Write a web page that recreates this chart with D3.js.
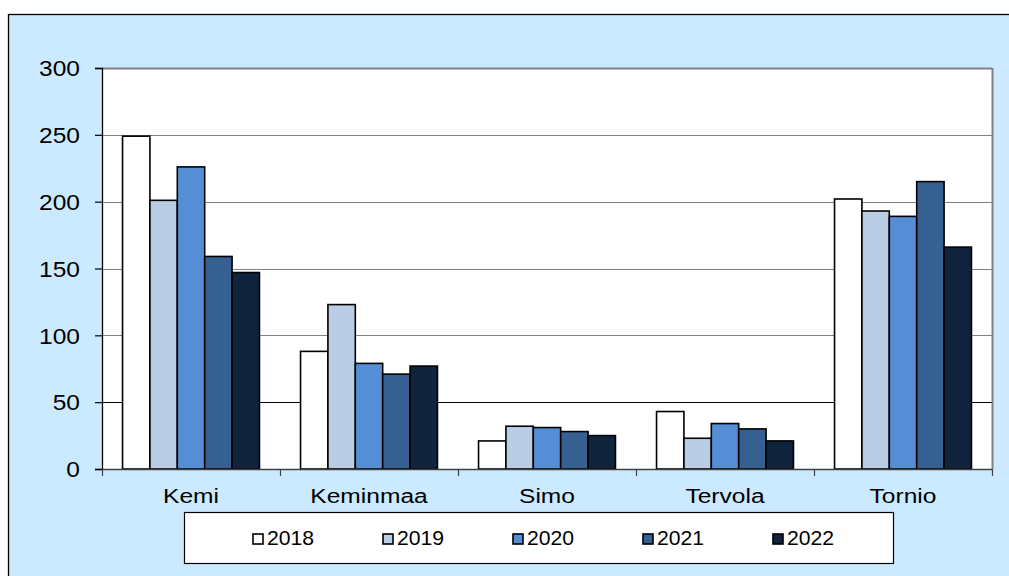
<!DOCTYPE html>
<html>
<head>
<meta charset="utf-8">
<script src="https://cdn.jsdelivr.net/npm/d3@7"></script>
<style>
  body { margin: 0; background: #fff; }
  svg { display: block; font-family: "Liberation Sans", Arial, sans-serif; }
</style>
</head>
<body>
<div id="chart"></div>
<script>
"use strict";
// données
const municipalities = ["Kemi", "Keminmaa", "Simo", "Tervola", "Tornio"];
const years = ["2018", "2019", "2020", "2021", "2022"];
const v2018 = [249, 88, 21, 43, 202];
const v2019 = [201, 123, 32, 23, 193];
const v2020 = [226, 79, 31, 34, 189];
const v2021 = [159, 71, 28, 30, 215];
const v2022 = [147, 77, 25, 21, 166];
const yTicks = [0, 50, 100, 150, 200, 250, 300];
const colors = ["#ffffff", "#b9cde5", "#558ed5", "#376092", "#10243e"];

const series = [v2018, v2019, v2020, v2021, v2022];
const rows = municipalities.map((m, i) => ({
    name: m,
    values: years.map((y, j) => ({ year: y, value: series[j][i], color: colors[j] }))
}));

const width = 1009, height = 576;
const plot = { left: 102, right: 992, top: 68, bottom: 469 };

const svg = d3.select("#chart").append("svg")
    .attr("width", width).attr("height", height);

// cadre extérieur
svg.append("rect")
    .attr("x", 8.5).attr("y", 14.5)
    .attr("width", width + 20).attr("height", height + 20)
    .attr("fill", "#cceaff")
    .attr("stroke", "#000").attr("stroke-width", 1.3);

const x = d3.scaleBand()
    .domain(municipalities)
    .range([plot.left, plot.right])
    .paddingInner(0).paddingOuter(0);

const xInner = d3.scaleBand()
    .domain(years)
    .range([0, x.bandwidth()])
    .paddingOuter(0.75)
    .paddingInner(0);

const y = d3.scaleLinear().domain([0, 300]).range([plot.bottom, plot.top]);

// zone de tracé
svg.append("rect")
    .attr("x", plot.left).attr("y", plot.top)
    .attr("width", plot.right - plot.left).attr("height", plot.bottom - plot.top)
    .attr("fill", "#fff");

// grille
svg.append("g").selectAll("line")
    .data(yTicks.filter(d => d > 0))
    .join("line")
    .attr("x1", plot.left).attr("x2", plot.right)
    .attr("y1", d => Math.round(y(d)) + 0.5).attr("y2", d => Math.round(y(d)) + 0.5)
    .attr("stroke", d => d === 50 ? "#000" : "#808080")
    .attr("stroke-width", d => d === 300 ? 2 : 1.2);

// bord droit
svg.append("line")
    .attr("x1", plot.right + 0.5).attr("x2", plot.right + 0.5)
    .attr("y1", plot.top).attr("y2", plot.bottom)
    .attr("stroke", "#808080").attr("stroke-width", 2);

// barres
const groups = svg.append("g").selectAll("g")
    .data(rows)
    .join("g")
    .attr("transform", d => `translate(${x(d.name)},0)`);

groups.selectAll("rect")
    .data(d => d.values)
    .join("rect")
    .attr("x", d => xInner(d.year))
    .attr("y", d => y(d.value))
    .attr("width", xInner.bandwidth())
    .attr("height", d => y(0) - y(d.value))
    .attr("fill", d => d.color)
    .attr("stroke", "#000")
    .attr("stroke-width", 1.6);

// axe Y
const yAxis = svg.append("g")
    .attr("transform", `translate(${plot.left},0)`)
    .call(d3.axisLeft(y).tickValues(yTicks).tickSize(7));
yAxis.select(".domain").attr("stroke", "#000").attr("stroke-width", 1.3);
yAxis.selectAll(".tick line").attr("stroke", "#000").attr("stroke-width", 1.2);
yAxis.selectAll(".tick text")
    .attr("x", 0).attr("dy", "0.36em")
    .attr("transform", "translate(-22,0) scale(1.14,1)")
    .attr("font-size", 21.5).attr("fill", "#000")
    .attr("font-family", "Liberation Sans, Arial, sans-serif");

// axe X
const xAxis = svg.append("g")
    .attr("transform", `translate(0,${plot.bottom})`);
xAxis.append("line")
    .attr("x1", plot.left).attr("x2", plot.right)
    .attr("y1", 0.5).attr("y2", 0.5)
    .attr("stroke", "#404040").attr("stroke-width", 1.5);
xAxis.selectAll(".sep")
    .data(municipalities.map(m => x(m)).concat([plot.right]))
    .join("line")
    .attr("class", "sep")
    .attr("x1", d => d + 0.5).attr("x2", d => d + 0.5)
    .attr("y1", 0).attr("y2", 7)
    .attr("stroke", "#404040").attr("stroke-width", 1.2);
xAxis.selectAll("text")
    .data(municipalities)
    .join("text")
    .attr("transform", d => `translate(${x(d) + x.bandwidth() / 2},33.5) scale(1.17,1)`)
    .attr("text-anchor", "middle")
    .attr("font-size", 21)
    .attr("fill", "#000")
    .text(d => d);

// légende
const legend = svg.append("g");
legend.append("rect")
    .attr("x", 184.5).attr("y", 512.5)
    .attr("width", 709).attr("height", 51)
    .attr("fill", "#fff").attr("stroke", "#000").attr("stroke-width", 1.2);

const lx = d3.scalePoint().domain(years).range([252, 772]);
const items = legend.selectAll("g.item")
    .data(years.map((yr, i) => ({ year: yr, color: colors[i] })))
    .join("g")
    .attr("class", "item")
    .attr("transform", d => `translate(${lx(d.year)},539)`);
items.append("rect")
    .attr("x", 1).attr("y", -5)
    .attr("width", 10).attr("height", 10)
    .attr("fill", d => d.color).attr("stroke", "#000").attr("stroke-width", 1.6);
items.append("text")
    .attr("transform", "translate(15,5.5) scale(1.06,1)")
    .attr("font-size", 20).attr("fill", "#000")
    .text(d => d.year);
</script>
</body>
</html>
